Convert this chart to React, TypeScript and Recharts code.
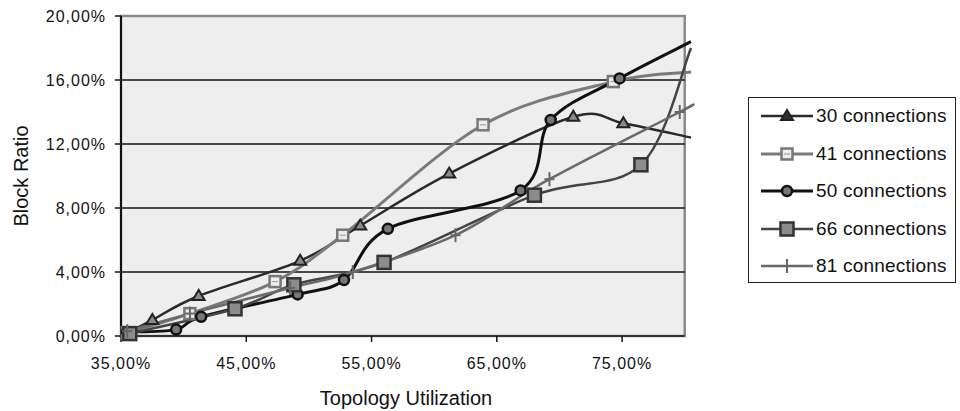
import React from "react";
import {
  LineChart,
  Line,
  XAxis,
  YAxis,
  ReferenceArea,
  ReferenceLine,
} from "recharts";

// axis ticks
const xTicks = [35, 45, 55, 65, 75];
const yTicks = [0, 4, 8, 12, 16, 20];
const gridLevels = [4, 8, 12, 16];

// topology utilization (%) / block ratio (%) per series
const util30 = [35.5, 37.5, 41.2, 49.3, 54.1, 61.2, 71.1, 75.1, 80.5];
const block30 = [0.2, 1.0, 2.5, 4.7, 6.9, 10.15, 13.7, 13.3, 12.4];

const util41 = [35.5, 40.5, 47.3, 52.7, 63.9, 74.3, 80.5];
const block41 = [0.2, 1.4, 3.4, 6.3, 13.2, 15.9, 16.5];

const util50 = [35.5, 39.4, 41.4, 49.1, 52.8, 56.3, 66.9, 69.3, 74.8, 80.5];
const block50 = [0.25, 0.4, 1.2, 2.6, 3.5, 6.7, 9.1, 13.5, 16.1, 18.4];

const util66 = [35.7, 44.1, 48.8, 56.0, 68.0, 76.5, 80.5];
const block66 = [0.15, 1.7, 3.2, 4.6, 8.8, 10.7, 18.0];

const util81 = [35.5, 40.5, 48.5, 53.5, 61.7, 69.2, 79.6, 80.5];
const block81 = [0.3, 1.4, 3.0, 4.0, 6.3, 9.8, 14.0, 14.4];

const FONT = "'Liberation Sans', Arial, sans-serif";

const pct = (v: number) => v.toFixed(2).replace(".", ",") + "%";

const toPoints = (xs: number[], ys: number[]) =>
  xs.map((x, i) => ({ x, y: ys[i] }));

// Excel style smoothed line (Catmull-Rom through the points)
function excelCurve(context: any) {
  let pts: number[][] = [];
  return {
    areaStart() {},
    areaEnd() {},
    lineStart() {
      pts = [];
    },
    point(x: number, y: number) {
      pts.push([+x, +y]);
    },
    lineEnd() {
      const n = pts.length;
      if (!n) return;
      context.moveTo(pts[0][0], pts[0][1]);
      for (let i = 0; i < n - 1; i++) {
        const p0 = pts[i - 1] || pts[i];
        const p1 = pts[i];
        const p2 = pts[i + 1];
        const p3 = pts[i + 2] || p2;
        context.bezierCurveTo(
          p1[0] + (p2[0] - p0[0]) / 6,
          p1[1] + (p2[1] - p0[1]) / 6,
          p2[0] - (p3[0] - p1[0]) / 6,
          p2[1] - (p3[1] - p1[1]) / 6,
          p2[0],
          p2[1]
        );
      }
    },
  };
}

type Kind = "triangle" | "hollowSquare" | "circle" | "square" | "plus";

function Marker({ kind, cx, cy, legend }: { kind: Kind; cx: number; cy: number; legend?: boolean }) {
  switch (kind) {
    case "triangle":
      return (
        <polygon
          points={`${cx},${cy - 6} ${cx - 6},${cy + 4} ${cx + 6},${cy + 4}`}
          fill={legend ? "#333" : "#8a8a8a"}
          stroke="#222"
          strokeWidth={2}
        />
      );
    case "hollowSquare":
      return (
        <g>
          <rect x={cx - 5.5} y={cy - 5.5} width={11} height={11} fill="#ececec" stroke="#777" strokeWidth={2.5} />
          <line x1={cx - 3} x2={cx + 3} y1={cy} y2={cy} stroke="#999" strokeWidth={1} />
        </g>
      );
    case "circle":
      return <circle cx={cx} cy={cy} r={5} fill="#777" stroke="#111" strokeWidth={2.5} />;
    case "square":
      return (
        <rect x={cx - 6.5} y={cy - 6.5} width={13} height={13} fill="#8c8c8c" stroke="#333" strokeWidth={2.5} />
      );
    default:
      return (
        <g stroke="#666" strokeWidth={2}>
          <line x1={cx} x2={cx} y1={cy - 7} y2={cy + 7} />
          <line x1={cx - 5} x2={cx + 5} y1={cy} y2={cy} />
        </g>
      );
  }
}

const makeDot = (kind: Kind) => (props: any) => {
  const { cx, cy, payload, index } = props;
  if (cx == null || cy == null || payload.x > 80) return <g key={index} />;
  return (
    <g key={index}>
      <Marker kind={kind} cx={cx} cy={cy} />
    </g>
  );
};

const series = [
  { name: "30 connections", data: toPoints(util30, block30), color: "#2a2a2a", width: 2.5, kind: "triangle" as Kind },
  { name: "41 connections", data: toPoints(util41, block41), color: "#7a7a7a", width: 3, kind: "hollowSquare" as Kind },
  { name: "50 connections", data: toPoints(util50, block50), color: "#111111", width: 3, kind: "circle" as Kind },
  { name: "66 connections", data: toPoints(util66, block66), color: "#444444", width: 2.5, kind: "square" as Kind },
  { name: "81 connections", data: toPoints(util81, block81), color: "#6a6a6a", width: 2.5, kind: "plus" as Kind },
];

const YTitle = (props: any) => {
  const { viewBox } = props;
  const cx = viewBox.x + 21;
  const cy = viewBox.y + viewBox.height / 2;
  return (
    <text
      x={cx}
      y={cy}
      transform={`rotate(-90 ${cx} ${cy})`}
      textAnchor="middle"
      dominantBaseline="central"
      fontSize={20}
      fill="#111"
      fontFamily={FONT}
    >
      Block Ratio
    </text>
  );
};

function LegendBox() {
  return (
    <div
      style={{
        position: "absolute",
        left: 748,
        top: 97,
        width: 208,
        height: 186,
        border: "1.5px solid #222",
        background: "#fff",
        boxSizing: "border-box",
        fontFamily: FONT,
      }}
    >
      {series.map((s, i) => (
        <div
          key={s.name}
          style={{
            position: "absolute",
            left: 12,
            top: 18 + i * 37.5 - 11,
            height: 22,
            display: "flex",
            alignItems: "center",
            whiteSpace: "nowrap",
          }}
        >
          <svg width={52} height={20} style={{ display: "block" }}>
            <line x1={0} x2={52} y1={10} y2={10} stroke={s.color} strokeWidth={s.width} />
            <Marker kind={s.kind} cx={26} cy={10} legend />
          </svg>
          <span style={{ fontSize: 19, color: "#111", marginLeft: 3, letterSpacing: 0.2 }}>{s.name}</span>
        </div>
      ))}
    </div>
  );
}

export default function App() {
  return (
    <div
      style={{
        position: "absolute",
        left: 0,
        top: 0,
        width: 960,
        height: 411,
        background: "#fff",
        fontFamily: FONT,
      }}
    >
      <LineChart width={960} height={411} margin={{ top: 16, right: 269, bottom: 0, left: 0 }}>
        <ReferenceArea
          x1={35}
          x2={80}
          y1={0}
          y2={20}
          fill="#eeeeee"
          fillOpacity={1}
          stroke="#8a8a8a"
          strokeWidth={2.5}
        />
        {gridLevels.map((v) => (
          <ReferenceLine
            key={v}
            segment={[
              { x: 35, y: v },
              { x: 80, y: v },
            ]}
            stroke="#111"
            strokeWidth={1.5}
          />
        ))}
        <ReferenceLine
          segment={[
            { x: 35, y: 0 },
            { x: 80, y: 0 },
          ]}
          stroke="#333"
          strokeWidth={2}
        />
        <XAxis
          type="number"
          dataKey="x"
          domain={[35, 80.5]}
          ticks={xTicks}
          tickFormatter={pct}
          axisLine={false}
          tickLine={{ stroke: "#111", strokeWidth: 1.5 }}
          tickSize={6}
          tickMargin={16}
          height={75}
          tick={{ fill: "#111", fontSize: 16, letterSpacing: 1 }}
          label={{
            value: "Topology Utilization",
            position: "insideBottom",
            offset: 6,
            fill: "#111",
            fontSize: 20,
          }}
        />
        <YAxis
          type="number"
          dataKey="y"
          domain={[0, 20]}
          ticks={yTicks}
          tickFormatter={pct}
          width={121}
          axisLine={{ stroke: "#111", strokeWidth: 2 }}
          tickLine={{ stroke: "#111", strokeWidth: 1.5 }}
          tickSize={6}
          tickMargin={9}
          tick={{ fill: "#111", fontSize: 16, letterSpacing: 1 }}
          label={<YTitle />}
        />
        {series.map((s) => (
          <Line
            key={s.name}
            data={s.data}
            dataKey="y"
            name={s.name}
            type={excelCurve as any}
            stroke={s.color}
            strokeWidth={s.width}
            dot={makeDot(s.kind)}
            activeDot={false}
            isAnimationActive={false}
          />
        ))}
      </LineChart>
      <LegendBox />
    </div>
  );
}
